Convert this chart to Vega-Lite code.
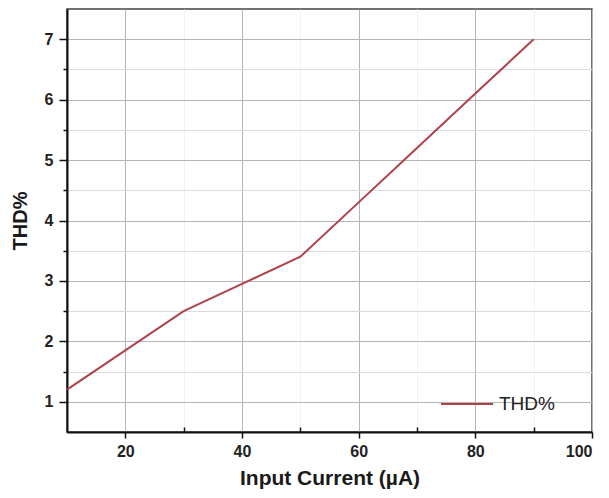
{
  "$schema": "https://vega.github.io/schema/vega-lite/v6.json",
  "autosize": {"type": "none"},
  "width": 525,
  "height": 423,
  "padding": {"left": 67, "top": 9, "right": 17, "bottom": 66},
  "background": "white",
  "config": {
    "font": "Liberation Sans",
    "view": {"stroke": "#444444", "strokeWidth": 1.5},
    "axis": {"labelFont": "Liberation Sans", "titleFont": "Liberation Sans"}
  },
  "data": {
    "values": [
      {"current": 10, "thd": 1.2, "series": "THD%"},
      {"current": 20, "thd": 1.85, "series": "THD%"},
      {"current": 30, "thd": 2.5, "series": "THD%"},
      {"current": 40, "thd": 2.95, "series": "THD%"},
      {"current": 50, "thd": 3.4, "series": "THD%"},
      {"current": 60, "thd": 4.3, "series": "THD%"},
      {"current": 70, "thd": 5.2, "series": "THD%"},
      {"current": 80, "thd": 6.1, "series": "THD%"},
      {"current": 90, "thd": 7.0, "series": "THD%"}
    ]
  },
  "layer": [
    {
      "mark": {"type": "line", "strokeOpacity": 0},
      "encoding": {
        "x": {
          "field": "current", "type": "quantitative",
          "scale": {"domain": [10, 100], "nice": false, "zero": false},
          "axis": {
            "orient": "bottom", "values": [30, 50, 70, 90], "title": null,
            "labels": false, "domain": false, "grid": true,
            "gridColor": "#f2f2f2", "gridWidth": 1,
            "ticks": true, "tickSize": -5, "tickColor": "#111111", "tickWidth": 1.5
          }
        },
        "y": {
          "field": "thd", "type": "quantitative",
          "scale": {"domain": [0.5, 7.5], "nice": false, "zero": false},
          "axis": {
            "orient": "left", "values": [1.5, 2.5, 3.5, 4.5, 5.5, 6.5], "title": null,
            "labels": false, "domain": false, "grid": true,
            "gridColor": "#dcdcdc", "gridWidth": 1,
            "ticks": true, "tickSize": 4, "tickColor": "#111111", "tickWidth": 1.5
          }
        }
      }
    },
    {
      "mark": {"type": "line", "strokeWidth": 2},
      "encoding": {
        "x": {
          "field": "current", "type": "quantitative",
          "axis": {
            "orient": "bottom", "values": [20, 40, 60, 80, 100],
            "title": "Input Current (µA)",
            "titleFontSize": 21, "titleFontWeight": "bold", "titleColor": "#1a1a1a",
            "titlePadding": 8,
            "labelFontSize": 16, "labelFontWeight": "bold", "labelColor": "#222222",
            "labelPadding": 5,
            "domain": true, "domainColor": "#111111", "domainWidth": 2,
            "grid": true, "gridColor": "#b5b5b5", "gridWidth": 1,
            "ticks": true, "tickSize": 6, "tickColor": "#111111", "tickWidth": 1.5
          }
        },
        "y": {
          "field": "thd", "type": "quantitative",
          "axis": {
            "orient": "left", "values": [1, 2, 3, 4, 5, 6, 7],
            "title": "THD%",
            "titleFontSize": 20, "titleFontWeight": "bold", "titleColor": "#1a1a1a",
            "titlePadding": 14,
            "labelFontSize": 16, "labelFontWeight": "bold", "labelColor": "#222222",
            "labelPadding": 6,
            "domain": true, "domainColor": "#111111", "domainWidth": 2,
            "grid": true, "gridColor": "#b5b5b5", "gridWidth": 1,
            "ticks": true, "tickSize": 8, "tickColor": "#111111", "tickWidth": 1.5
          }
        },
        "color": {
          "field": "series", "type": "nominal",
          "scale": {"range": ["#b0404c"]},
          "legend": {
            "title": null, "orient": "none", "legendX": 373, "legendY": 368,
            "symbolType": "stroke", "symbolSize": 2704, "symbolStrokeWidth": 2,
            "labelFontSize": 19, "labelColor": "#222222", "labelOffset": 5,
            "padding": 0
          }
        }
      }
    }
  ],
  "resolve": {"axis": {"x": "independent", "y": "independent"}}
}
